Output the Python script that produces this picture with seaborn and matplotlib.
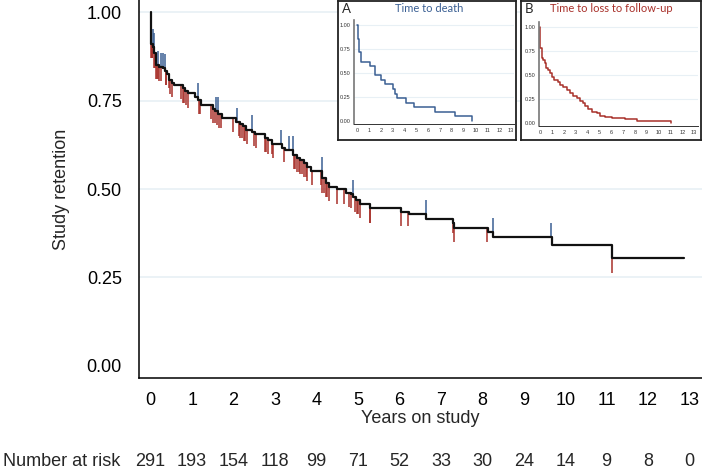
import numpy as np
import pandas as pd
import matplotlib
matplotlib.use("Agg")
import matplotlib.pyplot as plt
import matplotlib.transforms as mtransforms
import seaborn as sns

# ---------------- data ----------------
# main combined retention curve (step, post)
main_t = [0.00, 0.01, 0.05, 0.09, 0.13, 0.20, 0.30, 0.35, 0.40, 0.44, 0.51, 0.56,
          0.77, 0.82, 0.90, 1.06, 1.14, 1.21, 1.50, 1.56, 1.63, 1.71, 2.05, 2.15,
          2.23, 2.31, 2.45, 2.51, 2.76, 2.83, 2.93, 3.16, 3.23, 3.44, 3.53, 3.60,
          3.69, 3.77, 3.87, 4.14, 4.22, 4.29, 4.49, 4.70, 4.83, 4.88, 4.95, 5.05,
          5.28, 6.03, 6.22, 6.64, 7.30, 7.32, 8.14, 8.27, 9.68, 11.13, 12.86]
main_s = [1.000, 0.911, 0.900, 0.883, 0.850, 0.845, 0.841, 0.834, 0.825, 0.808, 0.800, 0.794,
          0.784, 0.777, 0.770, 0.760, 0.751, 0.737, 0.727, 0.720, 0.711, 0.700, 0.690, 0.684,
          0.677, 0.668, 0.662, 0.655, 0.645, 0.638, 0.628, 0.615, 0.610, 0.596, 0.588, 0.582,
          0.573, 0.563, 0.551, 0.530, 0.518, 0.505, 0.499, 0.490, 0.485, 0.476, 0.470, 0.459,
          0.445, 0.436, 0.428, 0.415, 0.403, 0.391, 0.378, 0.364, 0.342, 0.304, 0.304]

# event marks on main curve
loss_t = [0.00, 0.01, 0.02, 0.03, 0.04, 0.09, 0.11, 0.13, 0.15, 0.17, 0.21, 0.25, 0.36,
          0.38, 0.43, 0.46, 0.51, 0.74, 0.77, 0.80, 0.85, 0.90, 1.16, 1.20, 1.46, 1.50,
          1.54, 1.60, 1.65, 1.69, 1.99, 2.12, 2.16, 2.20, 2.24, 2.28, 2.32, 2.49, 2.53,
          2.76, 2.79, 2.83, 2.92, 2.95, 3.21, 3.46, 3.49, 3.53, 3.57, 3.61, 3.66, 3.70,
          3.74, 3.77, 3.88, 4.11, 4.14, 4.18, 4.22, 4.26, 4.30, 4.49, 4.67, 4.78, 4.83,
          4.94, 4.98, 5.01, 5.05, 5.28, 5.30, 6.03, 6.21, 7.29, 7.32, 8.12, 11.13]
death_t = [0.05, 0.07, 0.17, 0.25, 0.29, 0.35, 1.13, 1.58, 1.63, 2.09, 2.45, 3.14,
           3.33, 3.43, 4.13, 4.88, 6.63, 8.26, 9.66]

# numbers at risk
risk_years = list(range(14))
risk_n = [291, 193, 154, 118, 99, 71, 52, 33, 30, 24, 14, 9, 8, 0]

# inset A: time to death
deathA_t = [0.00, 0.05, 0.10, 0.20, 0.30, 1.07, 1.56, 2.06, 2.34, 3.05, 3.24, 3.35,
            4.10, 4.82, 6.60, 8.26, 9.67]
deathA_s = [1.000, 0.952, 0.857, 0.714, 0.619, 0.571, 0.476, 0.429, 0.381, 0.333,
            0.286, 0.238, 0.190, 0.143, 0.095, 0.048, 0.000]

# inset B: time to loss to follow-up
lossB_t = [0.00, 0.01, 0.14, 0.28, 0.42, 0.50, 0.70, 0.84, 0.98, 1.21, 1.49, 1.69,
           1.97, 2.25, 2.53, 2.81, 3.10, 3.38, 3.66, 3.80, 4.08, 4.36, 4.78, 5.06,
           5.49, 6.05, 7.18, 8.16, 11.06]
lossB_s = [1.000, 0.780, 0.675, 0.657, 0.622, 0.570, 0.552, 0.517, 0.483, 0.448,
           0.430, 0.395, 0.371, 0.343, 0.315, 0.280, 0.255, 0.231, 0.203, 0.175,
           0.140, 0.115, 0.098, 0.070, 0.056, 0.045, 0.035, 0.014, 0.000]

y_ticks = [0.00, 0.25, 0.50, 0.75, 1.00]
y_ticklabels = ["0.00", "0.25", "0.50", "0.75", "1.00"]

# ---------------- style ----------------
sns.set_theme(style="white")
plt.rcParams['font.family'] = ['Liberation Sans', 'DejaVu Sans']

W, H = 702, 473
fig = plt.figure(figsize=(W / 100, H / 100), dpi=100)
fig.patch.set_facecolor("white")


def fr(x0, y0, x1, y1):
    return [x0 / W, 1 - y1 / H, (x1 - x0) / W, (y1 - y0) / H]


RED = "#a8302a"
BLUE = "#3a5f93"
GRID = "#e8f0f5"
FS = 13

# ---------------- main axes ----------------
ax = fig.add_axes(fr(138.5, 0, 702, 378))
ax.set_xlim(-0.294, 13.30)
ax.set_ylim(-0.0339, 1.0339)
for yv in y_ticks[1:]:
    ax.axhline(yv, color=GRID, lw=1.2, zorder=0)

mt = np.array(main_t)
ms = np.array(main_s)


def s_post(t):
    i = np.searchsorted(mt, t, side="right") - 1
    return ms[max(i, 0)]


def s_pre(t):
    i = np.searchsorted(mt, t, side="left") - 1
    return ms[max(i, 0)]


tick_len = 0.04
lt = np.array(loss_t)
ls = np.array([s_post(t) for t in loss_t])
ax.vlines(lt, ls - tick_len, ls, color=RED, lw=1.1, zorder=2)
dt = np.array(death_t)
ds = np.array([s_pre(t) for t in death_t])
ax.vlines(dt, ds, ds + tick_len, color=BLUE, lw=1.1, zorder=2)

df_main = pd.DataFrame({"t": main_t, "s": main_s})
sns.lineplot(data=df_main, x="t", y="s", drawstyle="steps-post", color="#111111",
             lw=1.6, sort=False, estimator=None, ax=ax, zorder=3)

ax.set_xticks(risk_years)
ax.set_xticklabels([str(v) for v in risk_years])
ax.set_yticks(y_ticks)
ax.set_yticklabels(y_ticklabels)
ax.set_xlabel("")
ax.set_ylabel("")
ax.tick_params(axis="both", which="both", direction="out", length=7, width=1.1,
               color="black", labelsize=FS, labelcolor="black")
ax.tick_params(axis="y", pad=5)
ax.tick_params(axis="x", pad=3)
for side in ["top", "right"]:
    ax.spines[side].set_visible(False)
for side in ["left", "bottom"]:
    ax.spines[side].set_color("black")
    ax.spines[side].set_linewidth(1.1)
ax.set_facecolor("white")

fig.text(420 / W, 1 - 418 / H, "Years on study", ha="center", va="center", fontsize=FS)
fig.text(62 / W, 1 - 189 / H, "Study retention", ha="center", va="center",
         rotation=90, fontsize=FS)

trans = mtransforms.blended_transform_factory(ax.transData, fig.transFigure)
for yr, n in zip(risk_years, risk_n):
    ax.text(yr, 1 - 461 / H, str(n), transform=trans, ha="center", va="center",
            fontsize=FS, clip_on=False)
fig.text(3 / W, 1 - 461 / H, "Number at risk", ha="left", va="center", fontsize=FS)


# ---------------- insets ----------------
def make_inset(box, inner, xlim, ylim, t, s, color, letter, title, title_x):
    bx = fig.add_axes(fr(*box))
    bx.set_xticks([])
    bx.set_yticks([])
    bx.set_facecolor("white")
    for sp in bx.spines.values():
        sp.set_color("#222222")
        sp.set_linewidth(1.3)
    bx.set_zorder(5)
    ia = fig.add_axes(fr(*inner))
    ia.set_zorder(6)
    ia.patch.set_alpha(0)
    ia.set_xlim(*xlim)
    ia.set_ylim(*ylim)
    for yv in y_ticks[1:]:
        ia.axhline(yv, color=GRID, lw=0.8, zorder=0)
    d = pd.DataFrame({"t": t, "s": s})
    sns.lineplot(data=d, x="t", y="s", drawstyle="steps-post", color=color, lw=1.1,
                 sort=False, estimator=None, ax=ia)
    ia.set_xlabel("")
    ia.set_ylabel("")
    ia.set_xticks(risk_years)
    ia.set_xticklabels([str(v) for v in risk_years])
    ia.set_yticks(y_ticks)
    ia.set_yticklabels(y_ticklabels)
    ia.tick_params(axis="both", direction="out", length=1.5, width=0.6, pad=1.2,
                   labelsize=4, color="#333333", labelcolor="#333333")
    for side in ["top", "right"]:
        ia.spines[side].set_visible(False)
    ia.spines["left"].set_color("#777777")
    ia.spines["left"].set_linewidth(1.2)
    ia.spines["bottom"].set_color("#333333")
    ia.spines["bottom"].set_linewidth(0.7)
    fig.text((box[0] + 4) / W, 1 - 9 / H, letter, ha="left", va="center", fontsize=9.5,
             family=["Lato", "DejaVu Sans"], zorder=10)
    fig.text(title_x / W, 1 - 9 / H, title, ha="center", va="center", fontsize=8,
             color=color, family=["Lato", "DejaVu Sans"], zorder=10)


make_inset((338, 1, 516, 140), (354, 20, 514, 124), (-0.253, 13.25), (-0.031, 1.052),
           deathA_t, deathA_s, BLUE, "A", "Time to death", 429)
make_inset((521, 1, 701, 140), (539, 22, 698, 126), (-0.084, 13.33), (-0.035, 1.056),
           lossB_t, lossB_s, RED, "B", "Time to loss to follow-up", 611)

fig.savefig("out.png", dpi=100, facecolor="white")
